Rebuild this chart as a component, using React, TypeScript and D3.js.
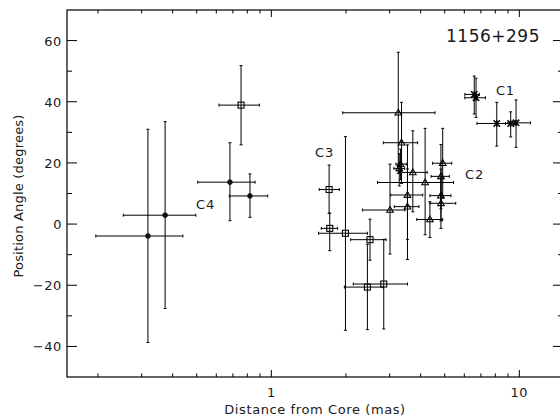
import React from "react";
import * as d3 from "d3";

// C4 (filled circles)
const c4X = [0.318, 0.373, 0.681, 0.82];
const c4Y = [-3.9, 2.9, 13.7, 9.2];
const c4XLo = [0.196, 0.253, 0.505, 0.677];
const c4XHi = [0.44, 0.496, 0.86, 0.967];
const c4YLo = [-38.7, -27.6, 1.1, 2.2];
const c4YHi = [31, 33.5, 26.6, 16.4];

// C3 (open squares)
const c3X = [0.755, 1.71, 1.72, 1.99, 2.5, 2.44, 2.84];
const c3Y = [38.9, 11.3, -1.4, -3.0, -5.1, -20.6, -19.6];
const c3XLo = [0.615, 1.56, 1.59, 1.55, 2.09, 1.97, 2.14];
const c3XHi = [0.895, 1.88, 1.85, 2.44, 2.9, 2.83, 3.54];
const c3YLo = [25.9, 3.5, -8.7, -34.7, -11.8, -34.5, -34.3];
const c3YHi = [51.8, 19.3, 3.6, 28.6, 1.6, -6.6, -5.0];

// C2 (open triangles)
const c2X = [3.25, 3.35, 3.32, 3.28, 3.72, 4.17, 3.54, 3.54, 3.01, 4.36, 4.91, 4.83, 4.83, 4.83];
const c2Y = [36.4, 26.6, 19.6, 18.2, 16.9, 13.6, 9.5, 5.7, 4.6, 1.5, 19.9, 15.6, 9.3, 6.8];
const c2XLo = [1.94, 2.83, 3.18, 3.12, 3.28, 2.68, 3.03, 3.13, 2.33, 3.86, 4.47, 4.41, 4.36, 4.36];
const c2XHi = [4.57, 3.89, 3.5, 3.45, 4.25, 5.43, 4.08, 3.94, 3.46, 4.91, 5.34, 5.22, 5.3, 5.54];
const c2YLo = [16.6, 13.3, 14.5, 12.5, 4.0, -3.5, -5, -11.6, -9.8, -4.4, 8.5, 5, 1, -1.4];
const c2YHi = [56.2, 39.8, 24.5, 23, 30.5, 31.3, 25.9, 18, 19.6, 7.3, 31.3, 26, 18, 15];

// C1 (asterisks)
const c1X = [6.58, 6.69, 8.11, 9.23, 9.7];
const c1Y = [42.4, 41.3, 32.9, 32.9, 33.1];
const c1XLo = [6.03, 6.03, 6.75, 8.8, 9.0];
const c1XHi = [6.9, 7.3, 9.5, 9.7, 11.1];
const c1YLo = [36, 34.9, 25.5, 28.5, 25.1];
const c1YHi = [48.4, 47.7, 39.8, 36.7, 40.6];

const componentLabels = ["C1", "C2", "C3", "C4"];
const labelX = [8.05, 6.04, 1.5, 0.497];
const labelY = [42.3, 14.8, 21.9, 4.9];

const title = "1156+295";
const xTitle = "Distance from Core (mas)";
const yTitle = "Position Angle (degrees)";
const xMajor = [1, 10];
const yMajor = [-40, -20, 0, 20, 40, 60];

const W = 560, H = 420;
const L = 67, R = 563, T = 10, B = 377;
const FONT = "DejaVu Sans";
const TXT = "#1a1a1a";

type Pt = { x: number; y: number; xl: number; xh: number; yl: number; yh: number };
function build(x: number[], y: number[], xl: number[], xh: number[], yl: number[], yh: number[]): Pt[] {
  return x.map((v, i) => ({ x: v, y: y[i], xl: xl[i], xh: xh[i], yl: yl[i], yh: yh[i] }));
}

export default function App() {
  const xs = d3.scaleLog().domain([0.15, 15]).range([L, R]);
  const ys = d3.scaleLinear().domain([-50, 70]).range([B, T]);

  const groups = [
    { kind: "circle", pts: build(c4X, c4Y, c4XLo, c4XHi, c4YLo, c4YHi) },
    { kind: "square", pts: build(c3X, c3Y, c3XLo, c3XHi, c3YLo, c3YHi) },
    { kind: "triangle", pts: build(c2X, c2Y, c2XLo, c2XHi, c2YLo, c2YHi) },
    { kind: "star", pts: build(c1X, c1Y, c1XLo, c1XHi, c1YLo, c1YHi) },
  ];

  const xMinor: number[] = [];
  for (const dec of [0.1, 1, 10]) {
    for (let k = 2; k <= 9; k++) {
      const v = dec * k;
      if (v > 0.15 && v < 15) xMinor.push(v);
    }
  }
  const yMinor = d3.range(-50, 71, 10).filter((v) => !yMajor.includes(v) && v > -50 && v < 70);

  const marker = (kind: string, cx: number, cy: number, key: string) => {
    if (kind === "circle") return <circle key={key} cx={cx} cy={cy} r={2.4} fill="#111" stroke="#111" strokeWidth={0.8} />;
    if (kind === "square") return <rect key={key} x={cx - 3} y={cy - 3} width={6} height={6} fill="none" stroke="#000" strokeWidth={1.1} />;
    if (kind === "triangle") {
      const p = d3.path();
      p.moveTo(cx, cy - 3.5);
      p.lineTo(cx + 3.3, cy + 2.3);
      p.lineTo(cx - 3.3, cy + 2.3);
      p.closePath();
      return <path key={key} d={p.toString()} fill="none" stroke="#000" strokeWidth={1.1} />;
    }
    const s = 3.2;
    return (
      <g key={key} stroke="#000" strokeWidth={1.5}>
        <line x1={cx - s} y1={cy - s} x2={cx + s} y2={cy + s} />
        <line x1={cx - s} y1={cy + s} x2={cx + s} y2={cy - s} />
        <line x1={cx} y1={cy - s} x2={cx} y2={cy + s} />
      </g>
    );
  };

  return (
    <svg width={W} height={H} style={{ position: "absolute", left: 0, top: 0, background: "#fff" }} fontFamily={FONT}>
      <rect x={0} y={0} width={W} height={H} fill="#fff" />
      {groups.map((g, gi) =>
        g.pts.map((p, i) => {
          const cx = xs(p.x), cy = ys(p.y);
          const x1 = xs(p.xl), x2 = xs(p.xh), y1 = ys(p.yl), y2 = ys(p.yh);
          return (
            <g key={`e${gi}-${i}`} stroke="#000" strokeWidth={1} fill="none">
              <line x1={x1} y1={cy} x2={x2} y2={cy} />
              <line x1={cx} y1={y1} x2={cx} y2={y2} />
              <line x1={x1} y1={cy - 1.5} x2={x1} y2={cy + 1.5} />
              <line x1={x2} y1={cy - 1.5} x2={x2} y2={cy + 1.5} />
              <line x1={cx - 1.5} y1={y1} x2={cx + 1.5} y2={y1} />
              <line x1={cx - 1.5} y1={y2} x2={cx + 1.5} y2={y2} />
            </g>
          );
        })
      )}
      {groups.map((g, gi) => g.pts.map((p, i) => marker(g.kind, xs(p.x), ys(p.y), `m${gi}-${i}`)))}

      <rect x={L} y={T} width={R - L} height={B - T} fill="none" stroke="#000" strokeWidth={1.2} />
      {xMajor.map((v) => (
        <g key={`xM${v}`} stroke="#000" strokeWidth={1}>
          <line x1={xs(v)} x2={xs(v)} y1={B} y2={B - 7} />
          <line x1={xs(v)} x2={xs(v)} y1={T} y2={T + 7} />
        </g>
      ))}
      {xMinor.map((v) => (
        <g key={`xm${v}`} stroke="#000" strokeWidth={1}>
          <line x1={xs(v)} x2={xs(v)} y1={B} y2={B - 3.5} />
          <line x1={xs(v)} x2={xs(v)} y1={T} y2={T + 3.5} />
        </g>
      ))}
      {yMajor.map((v) => (
        <g key={`yM${v}`} stroke="#000" strokeWidth={1}>
          <line x1={L} x2={L + 10} y1={ys(v)} y2={ys(v)} />
          <line x1={R} x2={R - 10} y1={ys(v)} y2={ys(v)} />
        </g>
      ))}
      {yMinor.map((v) => (
        <g key={`ym${v}`} stroke="#000" strokeWidth={1}>
          <line x1={L} x2={L + 5} y1={ys(v)} y2={ys(v)} />
          <line x1={R} x2={R - 5} y1={ys(v)} y2={ys(v)} />
        </g>
      ))}
      {xMajor.map((v) => (
        <text key={`xl${v}`} x={xs(v)} y={397} fontSize={13} textAnchor="middle" letterSpacing={0.6} fill={TXT}>
          {String(v)}
        </text>
      ))}
      {yMajor.map((v) => (
        <text key={`yl${v}`} x={62} y={ys(v) + 5} fontSize={13} textAnchor="end" letterSpacing={0.6} fill={TXT}>
          {v < 0 ? `\u2212${Math.abs(v)}` : String(v)}
        </text>
      ))}
      <text x={(L + R) / 2} y={414} fontSize={13} textAnchor="middle" letterSpacing={0.6} fill={TXT}>
        {xTitle}
      </text>
      <text transform={`translate(23,${196}) rotate(-90)`} fontSize={13} textAnchor="middle" letterSpacing={0.2} fill={TXT}>
        {yTitle}
      </text>
      <text x={540} y={42} fontSize={17} textAnchor="end" letterSpacing={0.5} fill={TXT}>
        {title}
      </text>
      {componentLabels.map((c, i) => (
        <text key={c} x={xs(labelX[i])} y={ys(labelY[i])} fontSize={13} letterSpacing={0.8} fill={TXT}>
          {c}
        </text>
      ))}
    </svg>
  );
}
